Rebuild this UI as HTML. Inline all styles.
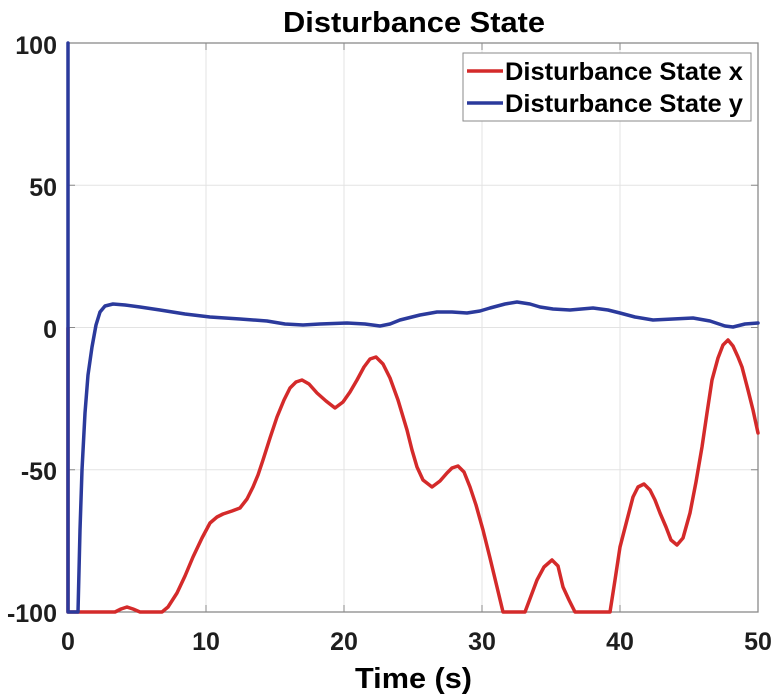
<!DOCTYPE html>
<html><head><meta charset="utf-8"><style>
html,body{margin:0;padding:0;background:#fff;}
svg{display:block;}
text{font-family:"Liberation Sans",Arial,sans-serif;font-weight:bold;fill:#1e1e1e;}
</style></head><body>
<svg width="774" height="697" viewBox="0 0 774 697" xmlns="http://www.w3.org/2000/svg">
<rect x="0" y="0" width="774" height="697" fill="#fff"/>
<!-- grid -->
<g stroke="#e3e3e3" stroke-width="1">
<line x1="206" y1="43" x2="206" y2="612"/>
<line x1="344" y1="43" x2="344" y2="612"/>
<line x1="482" y1="43" x2="482" y2="612"/>
<line x1="620" y1="43" x2="620" y2="612"/>
<line x1="68" y1="185.25" x2="758" y2="185.25"/>
<line x1="68" y1="327.5" x2="758" y2="327.5"/>
<line x1="68" y1="469.75" x2="758" y2="469.75"/>
</g>
<!-- ticks -->
<g stroke="#8a8a8a" stroke-width="1">
<line x1="206" y1="612" x2="206" y2="605"/><line x1="344" y1="612" x2="344" y2="605"/><line x1="482" y1="612" x2="482" y2="605"/><line x1="620" y1="612" x2="620" y2="605"/>
<line x1="206" y1="43" x2="206" y2="50"/><line x1="344" y1="43" x2="344" y2="50"/><line x1="482" y1="43" x2="482" y2="50"/><line x1="620" y1="43" x2="620" y2="50"/>
<line x1="68" y1="185.25" x2="75" y2="185.25"/><line x1="68" y1="327.5" x2="75" y2="327.5"/><line x1="68" y1="469.75" x2="75" y2="469.75"/>
<line x1="758" y1="185.25" x2="751" y2="185.25"/><line x1="758" y1="327.5" x2="751" y2="327.5"/><line x1="758" y1="469.75" x2="751" y2="469.75"/>
</g>
<rect x="68" y="43" width="690" height="569" fill="none" stroke="#8a8a8a" stroke-width="1.3"/>
<!-- series -->
<polyline fill="none" stroke="#d42a2a" stroke-width="3.5" stroke-linejoin="round" stroke-linecap="round" points="68,328 68,612 115,612 121,609 127,607 133,609 140,612 162,612 168,607 177,593 185,576 193,557 202,538 210,523 217,517 223,514 232,511 240,508 247,499 253,487 258,475 263,460 270,438 277,417 284,400 290,388 296,382 302,380 309,384 317,393 326,401 335,408 343,402 350,392 357,380 364,367 370,359 376,357 383,364 390,378 398,400 407,430 412,450 417,467 423,480 432,487 440,481 447,473 452,468 458,466 464,472 470,487 476,505 483,530 490,558 497,587 503,612 525,612 531,596 537,580 544,567 552,560 558,566 563,587 569,600 575,612 610,612 615,580 620,547 627,520 633,497 638,487 644,484 650,490 655,500 660,513 666,527 671,540 677,545 683,538 690,513 696,482 702,447 707,413 712,380 718,358 723,345 728,340 733,346 738,357 742,367 748,390 753,410 758,433"/>
<polyline fill="none" stroke="#2b3a9c" stroke-width="3.5" stroke-linejoin="round" stroke-linecap="round" points="68,43 68,612 78,612 80,530 82,470 85,413 88,375 92,347 96,325 100,312 105,306 113,304 125,305 140,307 160,310 185,314 210,317 240,319 267,321 285,324 303,325 320,324 347,323 365,324 380,326 390,324 400,320 420,315 437,312 452,312 467,313 480,311 490,308 505,304 517,302 530,304 540,307 553,309 570,310 593,308 608,310 620,313 635,317 653,320 673,319 693,318 710,321 725,326 733,327 745,324 758,323"/>
<!-- legend -->
<rect x="463" y="53" width="288" height="68" fill="#fff" stroke="#8a8a8a" stroke-width="1"/>
<line x1="467" y1="71" x2="503" y2="71" stroke="#d42a2a" stroke-width="3.5"/>
<line x1="467" y1="103" x2="503" y2="103" stroke="#2b3a9c" stroke-width="3.5"/>
<text x="505" y="80" font-size="25" textLength="238" lengthAdjust="spacingAndGlyphs" style="fill:#000">Disturbance State x</text>
<text x="505" y="112" font-size="25" textLength="238" lengthAdjust="spacingAndGlyphs" style="fill:#000">Disturbance State y</text>
<!-- y tick labels -->
<g font-size="25" text-anchor="end">
<text x="57" y="54">100</text>
<text x="57" y="196">50</text>
<text x="57" y="338">0</text>
<text x="57" y="480">-50</text>
<text x="57" y="622">-100</text>
</g>
<!-- x tick labels -->
<g font-size="25" text-anchor="middle">
<text x="68" y="650">0</text>
<text x="206" y="650">10</text>
<text x="344" y="650">20</text>
<text x="482" y="650">30</text>
<text x="620" y="650">40</text>
<text x="758" y="650">50</text>
</g>
<text x="413.5" y="688" font-size="29" text-anchor="middle" textLength="117" lengthAdjust="spacingAndGlyphs" style="fill:#000">Time (s)</text>
<text x="414" y="32" font-size="29" text-anchor="middle" textLength="262" lengthAdjust="spacingAndGlyphs" style="fill:#000">Disturbance State</text>
</svg>
</body></html>
